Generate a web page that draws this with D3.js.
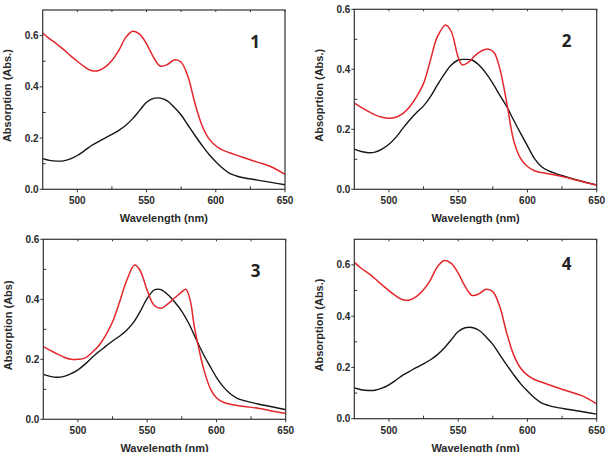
<!DOCTYPE html>
<html>
<head>
<meta charset="utf-8">
<script src="https://cdn.jsdelivr.net/npm/d3@7"></script>
<style>
body { margin: 0; background: #fff; }
svg text { font-family: "Liberation Sans", Arial, sans-serif; font-weight: bold; fill: #2a2a2a; }
</style>
</head>
<body>
<script>
// tick values
var xMajor = [500, 550, 600, 650],
	xMinor = [525, 575, 625],
	yMajor = [0, 0.2, 0.4, 0.6],
	yMinor = [0.1, 0.3, 0.5];

// spectra: [wavelength nm, absorbance]
var red1 = [[475,.61],[480,.587],[485,.568],[490,.546],[495,.522],[500,.5],[505,.479],[510,.464],[515,.463],[520,.477],
	[525,.503],[530,.542],[535,.593],[540,.617],[545,.606],[550,.568],[555,.516],[560,.481],[565,.487],[570,.505],
	[575,.496],[580,.438],[585,.335],[590,.25],[595,.198],[600,.17],[605,.153],[610,.143],[620,.124],[630,.106],
	[640,.088],[650,.058]];
var black1 = [[475,.12],[480,.113],[485,.11],[490,.111],[495,.119],[500,.132],[505,.15],[510,.17],[515,.185],[520,.2],
	[525,.214],[530,.23],[535,.25],[540,.276],[545,.308],[550,.34],[555,.355],[560,.356],[565,.345],[570,.32],
	[575,.29],[580,.25],[585,.21],[590,.172],[595,.137],[600,.108],[605,.082],[610,.062],[615,.052],[620,.045],
	[630,.036],[640,.027],[650,.018]];
var red2 = [[475,.287],[480,.273],[485,.26],[490,.248],[495,.24],[500,.237],[505,.24],[510,.252],[515,.275],[520,.309],
	[525,.353],[530,.431],[535,.509],[541,.548],[545,.526],[550,.44],[553,.415],[557,.422],[562,.445],[567,.462],
	[572,.467],[576,.455],[580,.403],[585,.29],[590,.164],[595,.103],[600,.076],[605,.062],[610,.056],[620,.048],
	[630,.037],[640,.025],[650,.014]];
var black2 = [[475,.134],[480,.126],[485,.122],[490,.124],[495,.134],[500,.15],[505,.173],[510,.203],[515,.231],[520,.256],
	[525,.278],[530,.309],[535,.348],[540,.384],[545,.414],[550,.431],[555,.433],[560,.431],[565,.414],[570,.387],
	[575,.353],[580,.314],[585,.276],[590,.231],[595,.187],[600,.145],[605,.103],[610,.076],[615,.062],[620,.053],
	[630,.039],[640,.026],[650,.014]];
var red3 = [[475,.242],[480,.23],[485,.218],[490,.207],[495,.2],[500,.2],[505,.204],[510,.222],[515,.245],[520,.28],
	[525,.325],[530,.39],[535,.46],[541,.514],[545,.495],[550,.43],[555,.38],[560,.37],[565,.385],[570,.405],
	[575,.425],[578,.433],[581,.398],[584,.31],[587,.242],[591,.164],[596,.098],[600,.072],[605,.057],[610,.05],
	[620,.043],[630,.037],[640,.028],[650,.02]];
var black3 = [[475,.15],[480,.143],[485,.14],[490,.143],[495,.152],[500,.165],[505,.183],[510,.205],[515,.225],[520,.243],
	[525,.261],[530,.277],[535,.296],[540,.322],[545,.36],[550,.403],[555,.431],[558,.434],[560,.432],[565,.415],
	[570,.39],[575,.36],[580,.32],[585,.27],[590,.222],[595,.18],[600,.14],[605,.108],[610,.085],[615,.07],
	[620,.062],[630,.051],[640,.042],[650,.032]];

var panelNames = ["1", "2", "3", "4"],
	yTitles = ["Absorption (Abs.)", "Absoprtion (Abs.)", "Absorption (Abs)", "Absorption (Abs.)"],
	yMax = [0.7, 0.6, 0.6, 0.7],
	redSeries = [red1, red2, red3, red1],
	blackSeries = [black1, black2, black3, black1];

var width = 608, height = 452;

var svg = d3.select("body").append("svg")
	.attr("width", width)
	.attr("height", height);

// plot boxes
var boxes = [
	{ l: 42.7, t: 10, r: 285, b: 189.3 },
	{ l: 354.3, t: 9.3, r: 596.7, b: 189.3 },
	{ l: 43.3, t: 239.3, r: 285.7, b: 419.3 },
	{ l: 354.3, t: 239.3, r: 596.7, b: 418.7 }
];

boxes.forEach(function (bx, i) {
	var x = d3.scaleLinear().domain([475, 650]).range([bx.l, bx.r]),
		y = d3.scaleLinear().domain([0, yMax[i]]).range([bx.b, bx.t]);

	var g = svg.append("g");

	var line = d3.line()
		.x(function (d) { return x(d[0]); })
		.y(function (d) { return y(d[1]); })
		.curve(d3.curveCatmullRom.alpha(0.5));

	g.append("path")
		.datum(blackSeries[i])
		.attr("fill", "none")
		.attr("stroke", "#161616")
		.attr("stroke-width", 1.4)
		.attr("d", line);

	g.append("path")
		.datum(redSeries[i])
		.attr("fill", "none")
		.attr("stroke", "#e3262b")
		.attr("stroke-width", 1.5)
		.attr("d", line);

	// frame
	g.append("rect")
		.attr("x", bx.l).attr("y", bx.t)
		.attr("width", bx.r - bx.l).attr("height", bx.b - bx.t)
		.attr("fill", "none")
		.attr("stroke", "#333")
		.attr("stroke-width", 1.2);

	// bottom ticks
	g.selectAll(".xt").data(xMajor).enter().append("line")
		.attr("x1", function (d) { return x(d); }).attr("x2", function (d) { return x(d); })
		.attr("y1", bx.b).attr("y2", bx.b + 3)
		.attr("stroke", "#333");
	g.selectAll(".xm").data(xMinor).enter().append("line")
		.attr("x1", function (d) { return x(d); }).attr("x2", function (d) { return x(d); })
		.attr("y1", bx.b).attr("y2", bx.b - 3)
		.attr("stroke", "#333");
	// top ticks
	g.selectAll(".xtt").data(xMajor.concat(xMinor)).enter().append("line")
		.attr("x1", function (d) { return x(d); }).attr("x2", function (d) { return x(d); })
		.attr("y1", bx.t).attr("y2", bx.t + 2)
		.attr("stroke", "#333");
	// left ticks
	g.selectAll(".yt").data(yMajor).enter().append("line")
		.attr("x1", bx.l - 3).attr("x2", bx.l)
		.attr("y1", function (d) { return y(d); }).attr("y2", function (d) { return y(d); })
		.attr("stroke", "#333");
	g.selectAll(".ym").data(yMinor).enter().append("line")
		.attr("x1", bx.l).attr("x2", bx.l + 3)
		.attr("y1", function (d) { return y(d); }).attr("y2", function (d) { return y(d); })
		.attr("stroke", "#333");

	// tick labels
	g.selectAll(".xl").data(xMajor).enter().append("text")
		.attr("x", function (d) { return x(d); })
		.attr("y", bx.b + 15)
		.attr("text-anchor", "middle")
		.style("font-size", "10px")
		.text(function (d) { return d; });
	g.selectAll(".yl").data(yMajor).enter().append("text")
		.attr("x", bx.l - 4)
		.attr("y", function (d) { return y(d); })
		.attr("dy", "0.35em")
		.attr("text-anchor", "end")
		.style("font-size", "10px")
		.text(function (d) { return d3.format(".1f")(d); });

	// axis titles
	g.append("text")
		.attr("x", (bx.l + bx.r) / 2)
		.attr("y", bx.b + 33)
		.attr("text-anchor", "middle")
		.style("font-size", "11px")
		.text("Wavelength (nm)");
	g.append("text")
		.attr("transform", "translate(" + (bx.l - 31.5) + "," + ((bx.t + bx.b) / 2 - 4) + ")rotate(-90)")
		.attr("text-anchor", "middle")
		.style("font-size", "11px")
		.text(yTitles[i]);

	// panel number
	g.append("text")
		.attr("x", bx.r - 30)
		.attr("y", bx.t + (i == 3 ? 31 : 38))
		.attr("text-anchor", "middle")
		.style("font-family", "'Open Sans', 'Noto Sans', sans-serif")
		.style("font-size", "17px")
		.style("fill", "#222")
		.text(panelNames[i]);
});
</script>
</body>
</html>
